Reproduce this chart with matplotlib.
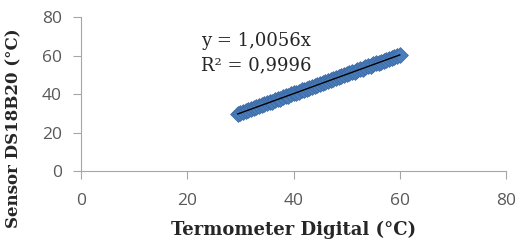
import matplotlib.pyplot as plt

# readings (termometer digital vs DS18B20 sensor), degC
termometer = [29.5, 30.0, 30.5, 31.0, 31.5, 32.0, 32.5, 33.0, 33.5, 34.0,
              34.5, 35.0, 35.5, 36.0, 36.5, 37.0, 37.5, 38.0, 38.5, 39.0,
              39.5, 40.0, 40.5, 41.0, 41.5, 42.0, 42.5, 43.0, 43.5, 44.0,
              44.5, 45.0, 45.5, 46.0, 46.5, 47.0, 47.5, 48.0, 48.5, 49.0,
              49.5, 50.0, 50.5, 51.0, 51.5, 52.0, 52.5, 53.0, 53.5, 54.0,
              54.5, 55.0, 55.5, 56.0, 56.5, 57.0, 57.5, 58.0, 58.5, 59.0,
              59.5, 60.0]
sensor = [29.6, 30.3, 30.8, 31.1, 31.8, 32.2, 32.6, 33.4, 33.7, 34.3,
          34.6, 35.3, 35.8, 36.1, 36.8, 37.4, 37.6, 38.3, 38.9, 39.1,
          39.8, 40.4, 40.6, 41.3, 41.9, 42.2, 42.8, 43.4, 43.6, 44.3,
          44.9, 45.2, 45.7, 46.4, 46.8, 47.2, 47.9, 48.4, 48.7, 49.3,
          49.9, 50.2, 50.9, 51.4, 51.7, 52.4, 52.8, 53.2, 53.9, 54.4,
          54.7, 55.4, 55.9, 56.2, 56.9, 57.4, 57.7, 58.4, 58.8, 59.3,
          59.9, 60.5]
slope = 1.0056
r2 = 0.9996

fig = plt.figure(figsize=(5.2, 2.44), dpi=100)
ax = fig.add_axes([0.156, 0.299, 0.817, 0.631])

ax.scatter(termometer, sensor, marker='D', s=64, color='#4a7ebb',
           edgecolors='#3d6aa5', linewidths=0.6, zorder=2)
fit_x = [min(termometer), max(termometer)]
ax.plot(fit_x, [slope * v for v in fit_x], color='black', lw=1.0, zorder=3)

ax.text(22.6, 67.5, 'y = 1,0056x', fontsize=13, family='DejaVu Serif',
        va='center', color='#262626')
ax.text(22.6, 55, 'R² = 0,9996', fontsize=13, family='DejaVu Serif',
        va='center', color='#262626')

ax.set_xlim(0, 80)
ax.set_ylim(0, 80)
ax.set_xticks([0, 20, 40, 60, 80])
ax.set_yticks([0, 20, 40, 60, 80])
for side in ['top', 'right']:
    ax.spines[side].set_visible(False)
for side in ['left', 'bottom']:
    ax.spines[side].set_color('#a6a6a6')
ax.tick_params(colors='#a6a6a6', labelcolor='#595959', labelsize=12.5,
               length=6, direction='out')
ax.tick_params(axis='y', pad=8)
ax.tick_params(axis='x', pad=10)
for lab in ax.get_xticklabels() + ax.get_yticklabels():
    lab.set_family('Open Sans')

ax.set_xlabel('Termometer Digital (°C)', family='DejaVu Serif',
              fontweight='bold', fontsize=13, color='#262626', labelpad=8)
# y label sits lower than the axis centre in the original
fig.text(0.027, 0.475, 'Sensor DS18B20 (°C)', family='DejaVu Serif',
         fontweight='bold', fontsize=12, color='#262626',
         rotation=90, ha='center', va='center')

fig.savefig('out.png', dpi=100)
